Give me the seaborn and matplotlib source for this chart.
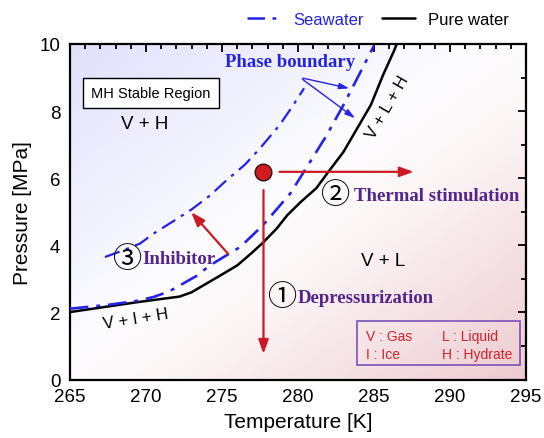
import numpy as np
import pandas as pd
import seaborn as sns
import matplotlib.pyplot as plt
from matplotlib.colors import LinearSegmentedColormap
from matplotlib.lines import Line2D
from matplotlib.ticker import MultipleLocator
from matplotlib.patches import Rectangle

# phase boundary curves (T in K, P in MPa)
pure_T = [265.0, 266.5, 268.0, 269.5, 271.0, 272.2, 273.0, 273.6, 274.7, 276.0,
          276.9, 277.7, 278.6, 279.3, 280.2, 281.2, 282.0, 283.0, 283.9, 284.8,
          285.6, 286.3, 286.5]
pure_P = [2.01, 2.11, 2.21, 2.31, 2.40, 2.47, 2.60, 2.76, 3.05, 3.40,
          3.75, 4.08, 4.50, 4.90, 5.30, 5.70, 6.19, 6.79, 7.49, 8.19,
          9.08, 9.78, 10.0]

sea_T = [265.0, 267.6, 269.5, 270.5, 271.5, 272.4, 273.3, 274.2, 276.2, 277.7,
         279.5, 280.8, 281.9, 283.0, 283.9, 285.0]
sea_P = [2.11, 2.23, 2.35, 2.46, 2.62, 2.85, 3.08, 3.40, 3.95, 4.60,
         5.55, 6.49, 7.29, 8.19, 8.98, 9.95]

inhib_T = [267.3, 268.5, 269.6, 270.5, 271.8, 273.0, 274.2, 275.3, 276.5, 277.5,
           278.8, 279.6, 280.4]
inhib_P = [3.65, 3.85, 4.05, 4.35, 4.72, 5.07, 5.48, 5.94, 6.40, 6.89,
           7.59, 8.12, 8.68]

# starting state of the hydrate
state_T = 277.73
state_P = 6.19

region_labels = ["V + H", "V + L", "V + L + H", "V + I + H"]

sns.set_theme(style="white")
plt.rcParams['font.family'] = ['Liberation Sans', 'DejaVu Sans']
plt.rcParams['text.color'] = 'black'
plt.rcParams['axes.labelcolor'] = 'black'

fig = plt.figure(figsize=(5.44, 4.39), dpi=100)
ax = fig.add_axes([70 / 544, 1 - 380.5 / 439, 456 / 544, 335.5 / 439])

# diagonal background: lavender top-left -> white -> pink bottom-right
cmap = LinearSegmentedColormap.from_list(
    "bg", [(0.0, (0.88, 0.88, 0.99)), (0.45, (0.99, 0.99, 1.0)),
           (0.6, (0.99, 0.965, 0.965)), (1.0, (0.93, 0.80, 0.82))])
gx, gy = np.meshgrid(np.linspace(0, 1, 200), np.linspace(0, 1, 200))
ax.imshow((gx + gy) / 2, cmap=cmap, extent=[265, 295, 0, 10], origin="upper",
          aspect="auto", zorder=0, interpolation="bilinear")

blue = "#2323e6"
red = "#cc1a24"
purple = "#55238c"
dashdot = [7, 3, 1.5, 3]

sns.lineplot(data=pd.DataFrame({"T": pure_T, "P": pure_P}), x="T", y="P",
             ax=ax, color="black", lw=1.8, sort=False, zorder=3)
sns.lineplot(data=pd.DataFrame({"T": sea_T, "P": sea_P}), x="T", y="P",
             ax=ax, color=blue, lw=1.9, sort=False, zorder=3)
ax.lines[-1].set_dashes(dashdot)
sns.lineplot(data=pd.DataFrame({"T": inhib_T, "P": inhib_P}), x="T", y="P",
             ax=ax, color=blue, lw=1.6, sort=False, zorder=3)
ax.lines[-1].set_dashes(dashdot)

# process arrows
arrow_kw = dict(arrowstyle="-|>,head_length=0.7,head_width=0.25", color=red, lw=1.6)
ax.annotate("", xy=(state_T, 0.68), xytext=(state_T, 5.73), arrowprops=arrow_kw, zorder=4)
ax.annotate("", xy=(287.8, state_P), xytext=(278.6, state_P), arrowprops=arrow_kw, zorder=4)
ax.annotate("", xy=(272.85, 5.05), xytext=(275.53, 3.68), arrowprops=arrow_kw, zorder=4)
ax.plot(state_T, state_P, "o", ms=12, mfc="#d01a20", mec="#301010", mew=1, zorder=5)

# phase boundary pointer
ax.text(279.45, 9.48, "Phase boundary", color=blue, fontsize=13.5, fontweight="bold",
        family="Liberation Serif", ha="center", va="center", zorder=6)
pkw = dict(arrowstyle="-|>,head_length=0.5,head_width=0.15", color=blue, lw=1)
ax.annotate("", xy=(283.55, 8.66), xytext=(280.14, 9.0), arrowprops=pkw, zorder=6)
ax.annotate("", xy=(283.9, 7.74), xytext=(280.14, 9.0), arrowprops=pkw, zorder=6)

# method labels
methods = [("\u2460", "Depressurization", 279.0, 2.45, 0.95),
           ("\u2461", "Thermal stimulation", 282.5, 5.49, 1.2),
           ("\u2462", "Inhibitor", 268.8, 3.6, 0.95)]
for num, name, tx, ty, gap in methods:
    ax.text(tx, ty, num, fontsize=21, family=["Noto Sans CJK JP", "DejaVu Sans"],
            color="black", ha="center", va="center", zorder=6)
    ax.text(tx + gap, ty, name, fontsize=13.5, fontweight="bold",
            family="Liberation Serif", color=purple, ha="left", va="center", zorder=6)

# region labels
ax.text(269.9, 7.64, region_labels[0], fontsize=13.5, ha="center", va="center")
ax.text(285.6, 3.55, region_labels[1], fontsize=13.5, ha="center", va="center")
ax.text(285.9, 8.15, region_labels[2], fontsize=12, ha="center", va="center", rotation=60)
ax.text(269.3, 1.82, region_labels[3], fontsize=12, ha="center", va="center", rotation=9)

ax.text(270.33, 8.55, "MH Stable Region", fontsize=10.5, ha="center", va="center",
        bbox=dict(boxstyle="square,pad=0.55", fc="white", ec="black", lw=1), zorder=6)

# abbreviation box
ax.add_patch(Rectangle((283.9, 0.43), 10.7, 1.30, fill=False, ec="#7a50b8", lw=1.2, zorder=6))
for s, tx, ty in [("V : Gas", 284.5, 1.31), ("L : Liquid", 289.5, 1.31),
                  ("I : Ice", 284.5, 0.76), ("H : Hydrate", 289.5, 0.76)]:
    ax.text(tx, ty, s, fontsize=10, color="#d42028", ha="left", va="center", zorder=6)

ax.set_xlim(265, 295)
ax.set_ylim(0, 10)
ax.xaxis.set_major_locator(MultipleLocator(5))
ax.xaxis.set_minor_locator(MultipleLocator(1))
ax.yaxis.set_major_locator(MultipleLocator(2))
ax.yaxis.set_minor_locator(MultipleLocator(1))
ax.tick_params(which="both", direction="in", top=True, right=True, colors="black",
               labelsize=13.5, width=1.3)
ax.tick_params(which="major", length=6)
ax.tick_params(which="minor", length=3.5)
ax.tick_params(axis="x", which="major", pad=6)
ax.tick_params(axis="y", which="major", pad=7)
for sp in ax.spines.values():
    sp.set_color("black")
    sp.set_linewidth(1.6)
ax.set_xlabel("Temperature [K]", fontsize=15, labelpad=5)
ax.set_ylabel("Pressure [MPa]", fontsize=15, labelpad=5)

handles = [Line2D([], [], color=blue, lw=1.8, dashes=dashdot),
           Line2D([], [], color="black", lw=1.8)]
leg = fig.legend(handles, ["Seawater", "Pure water"], loc="center right",
                 bbox_to_anchor=(0.963, 0.954), ncol=2, frameon=False,
                 fontsize=12, handlelength=2.0, columnspacing=1.1, handletextpad=0.75)
leg.get_texts()[0].set_color(blue)

fig.savefig("out.png", dpi=100)
